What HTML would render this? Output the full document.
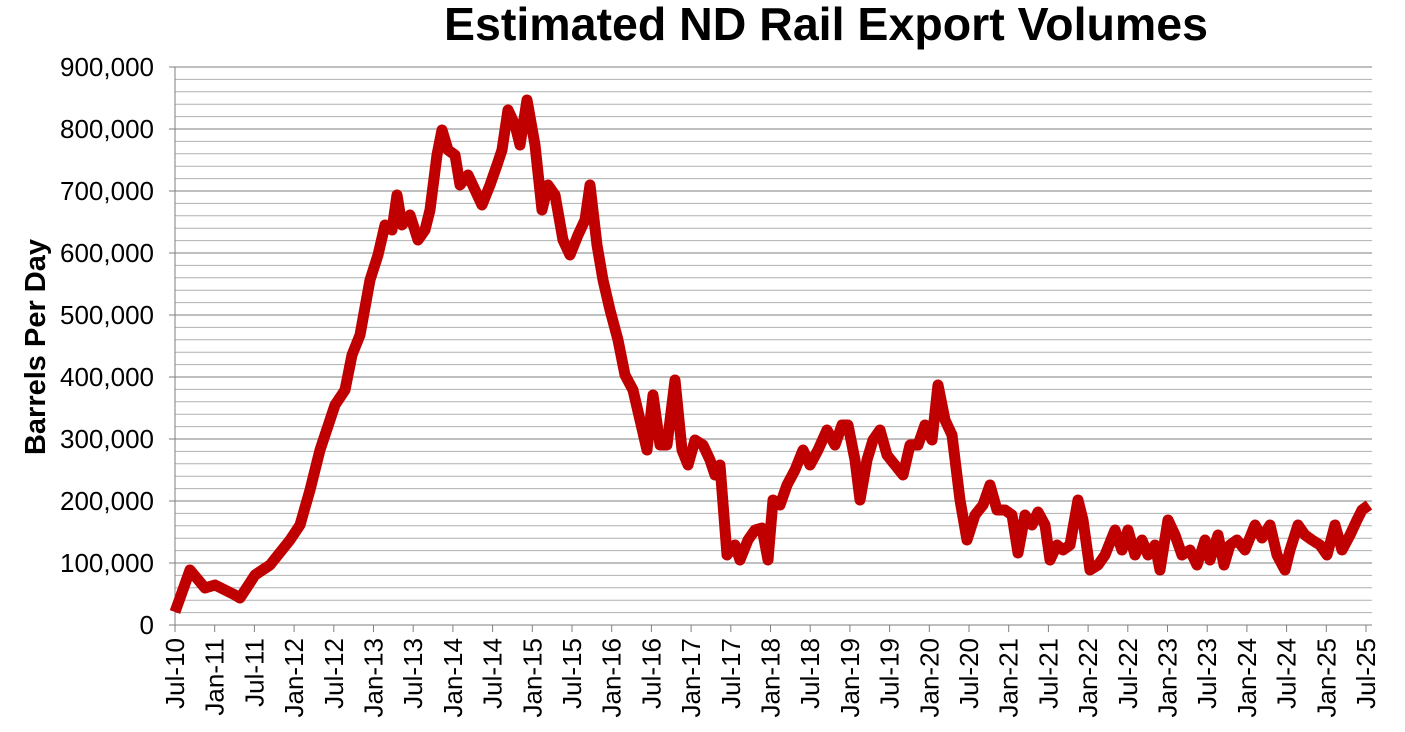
<!DOCTYPE html>
<html><head><meta charset="utf-8"><style>
body{margin:0;background:#fff;}
svg{display:block;font-family:"Liberation Sans",Arial,sans-serif;}
</style></head><body>
<svg width="1405" height="732" viewBox="0 0 1405 732" xmlns="http://www.w3.org/2000/svg">
<text x="826" y="40" font-size="46.5" font-weight="bold" text-anchor="middle">Estimated ND Rail Export Volumes</text>
<g id="grid" stroke-width="1"></g>
<g id="yl" font-size="26" text-anchor="end"></g>
<g id="xl" font-size="26"></g>
<text transform="translate(45,347) rotate(-90)" font-size="29" font-weight="bold" text-anchor="middle">Barrels Per Day</text>
<polyline id="ln" fill="none" stroke="#c00000" stroke-width="11" stroke-linejoin="round" stroke-linecap="butt" points="175,612 190,570 205,588 215,585 235,595 240,598 255,575 270,565 290,540 300,525 310,490 320,450 335,405 345,390 352,355 360,335 370,280 378,255 385,225 392,230 397,195 402,225 410,215 418,240 425,230 430,210 437,155 442,130 448,150 455,155 460,185 468,175 475,190 482,205 490,185 497,165 502,150 508,110 515,125 520,145 527,100 535,145 542,210 548,185 555,195 563,240 570,255 578,235 585,220 590,185 597,245 603,280 610,310 618,340 625,375 633,390 640,420 647,450 653,395 660,445 667,445 675,380 682,450 688,465 695,440 703,445 710,460 715,475 720,465 727,555 735,545 740,560 748,540 755,530 762,528 768,560 773,500 780,505 787,485 795,470 803,450 810,465 818,450 827,430 835,445 842,425 848,425 855,460 860,500 867,460 873,440 880,430 887,455 895,465 903,475 910,445 918,445 925,425 932,440 938,385 945,420 952,435 960,500 967,540 975,515 983,505 990,485 997,510 1005,510 1012,515 1018,553 1025,515 1032,525 1038,512 1045,525 1050,560 1057,545 1063,550 1070,545 1078,500 1083,520 1090,570 1098,565 1105,555 1115,530 1122,550 1128,530 1135,555 1142,540 1148,555 1155,545 1160,570 1168,520 1175,535 1182,555 1190,550 1197,565 1205,540 1210,560 1218,535 1224,565 1230,545 1237,540 1245,550 1255,525 1262,538 1270,525 1277,555 1285,570 1290,550 1298,525 1305,535 1312,540 1320,545 1327,555 1335,525 1342,550 1350,535 1357,520 1362,510 1369,505"/>
<script>
var ns="http://www.w3.org/2000/svg";
var g=document.getElementById('grid'),yl=document.getElementById('yl'),xl=document.getElementById('xl');
function el(p,t,a){var e=document.createElementNS(ns,t);for(var k in a)e.setAttribute(k,a[k]);p.appendChild(e);return e;}
var y0=625,step=62;
for(var i=0;i<=45;i++){var y=y0-i*step/5;var major=i%5==0;
 el(g,'line',{x1:175,x2:1372,y1:y,y2:y,stroke:major?'#7f7f7f':'#b0b0b0'});
 if(major){el(g,'line',{x1:169,x2:175,y1:y,y2:y,stroke:'#7f7f7f'});
  var v=i/5*100000;var t=el(yl,'text',{x:154,y:y+9});t.textContent=v==0?'0':v.toLocaleString('en-US');}}
el(g,'line',{x1:175,x2:175,y1:67,y2:625,stroke:'#7f7f7f'});
for(var j=0;j<=30;j++){var x=175+j*39.7;
 el(g,'line',{x1:x,x2:x,y1:625,y2:632,stroke:'#7f7f7f'});
 var yr=10+Math.floor((j+1)/2);var lab=(j%2==0?'Jul':'Jan')+'-'+yr;
 var t=el(xl,'text',{transform:'translate('+(x+9)+',638) rotate(-90)','text-anchor':'end'});t.textContent=lab;}
</script>
</svg>
</body></html>
